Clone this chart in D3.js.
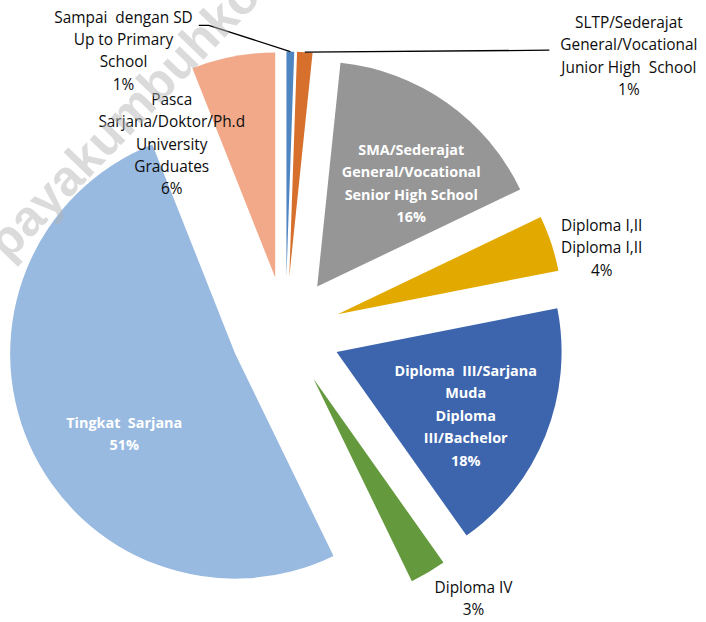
<!DOCTYPE html>
<html>
<head>
<meta charset="utf-8">
<script src="https://cdn.jsdelivr.net/npm/d3@7/dist/d3.min.js"></script>
<style>
  body { margin: 0; background: #fff; }
  svg { display: block; }
</style>
</head>
<body>
<svg id="chart"></svg>
<script>
// slices, clockwise from 12 o'clock
const categories = [
  ["Sampai  dengan SD", "Up to Primary", "School"],
  ["SLTP/Sederajat", "General/Vocational", "Junior High  School"],
  ["SMA/Sederajat", "General/Vocational", "Senior High School"],
  ["Diploma I,II", "Diploma I,II"],
  ["Diploma  III/Sarjana", "Muda", "Diploma", "III/Bachelor"],
  ["Diploma IV"],
  ["Tingkat  Sarjana"],
  ["Pasca", "Sarjana/Doktor/Ph.d", "University", "Graduates"]
];
const values = [0.55, 1.1, 16.25, 4.0, 18.3, 2.6, 51.2, 6.0];
const colors = ["#4e86c2", "#d6702c", "#969696", "#e2aa00", "#3d65ad", "#64993d", "#98b9e0", "#f1a98a"];
const insideLabel = [false, false, true, false, true, false, true, false];

const width = 706, height = 622;
const cx = 285.5, cy = 331.5;     // pie centre before explosion
const radius = 225;
const explode = 55;
const lineH = 22.4;

// label block centres, polar around the pie centre: [angle deg clockwise from top, distance]
const labelPolar = [
  [330.0, 324], [51.3, 440], [40.4, 194], [75.2, 327],
  [115.1, 199], [144.9, 327], [237.6, 191], [328.7, 219]
];

const svg = d3.select("#chart")
    .attr("width", width)
    .attr("height", height);

const pie = d3.pie().sort(null).value(d => d);
const arcs = pie(values);
const arc = d3.arc().innerRadius(0).outerRadius(radius);

function offset(a, r) {
  return [Math.sin(a) * r, -Math.cos(a) * r];
}

const g = svg.append("g").attr("transform", `translate(${cx},${cy})`);

// slices
g.selectAll("path.slice")
  .data(arcs)
  .enter()
  .append("path")
    .attr("class", "slice")
    .attr("d", arc)
    .attr("fill", (d, i) => colors[i])
    .attr("transform", d => {
      const o = offset((d.startAngle + d.endAngle) / 2, explode);
      return `translate(${o[0]},${o[1]})`;
    });

// watermark
svg.append("text")
    .text("payakumbuhkota.bps.go.id")
    .attr("transform", "translate(8,262) rotate(-46)")
    .style("font-family", "Liberation Sans, Arial, sans-serif")
    .style("font-weight", "bold")
    .style("font-size", "50px")
    .style("fill", "rgba(180,180,180,0.48)");

// labels
const fmt = v => Math.round(v) + "%";
const labels = g.selectAll("text.lbl")
  .data(arcs)
  .enter()
  .append("text")
    .attr("class", "lbl")
    .attr("text-anchor", "middle")
    .style("white-space", "pre")
    .style("font-family", "'Open Sans', sans-serif")
    .style("font-size", (d, i) => insideLabel[i] ? "14.4px" : "15.4px")
    .style("font-weight", (d, i) => insideLabel[i] ? "bold" : "normal")
    .style("fill", (d, i) => insideLabel[i] ? "#ffffff" : "#0d0d0d");

const labelBox = [];
labels.each(function(d, i) {
  const lines = categories[i].concat([fmt(values[i])]);
  const p = offset(labelPolar[i][0] * Math.PI / 180, labelPolar[i][1]);
  const top = p[1] - (lines.length - 1) * lineH / 2;
  const t = d3.select(this);
  let maxW = 0, firstW = 0;
  lines.forEach((s, k) => {
    const ts = t.append("tspan")
        .attr("x", p[0])
        .attr("y", top + k * lineH)
        .attr("dy", "0.34em")
        .text(s);
    const w = ts.node().getComputedTextLength();
    if (k === 0) firstW = w;
    maxW = Math.max(maxW, w);
  });
  labelBox[i] = {x: p[0], y: p[1], top: top, maxW: maxW, firstW: firstW, n: lines.length};
});

// leader lines for the two thin slices
function sliceTip(d) {
  const mid = (d.startAngle + d.endAngle) / 2;
  const o = offset(mid, explode);
  const e = offset(mid, radius);
  return [o[0] + e[0], o[1] + e[1]];
}

const sd = labelBox[0];
const sdStart = [sd.x + sd.firstW / 2 + 6, sd.top + 8];
const sdTip = sliceTip(arcs[0]);
g.append("path")
    .attr("d", d3.line()([sdStart, [sdStart[0] + 10, sdStart[1]], sdTip]))
    .attr("fill", "none")
    .attr("stroke", "#000")
    .attr("stroke-width", 1.3);

const sl = labelBox[1];
const slTip = sliceTip(arcs[1]);
g.append("path")
    .attr("d", d3.line()([slTip, [sl.x - sl.maxW / 2 - 11, sl.top + lineH + 5]]))
    .attr("fill", "none")
    .attr("stroke", "#000")
    .attr("stroke-width", 1.3);
</script>
</body>
</html>
